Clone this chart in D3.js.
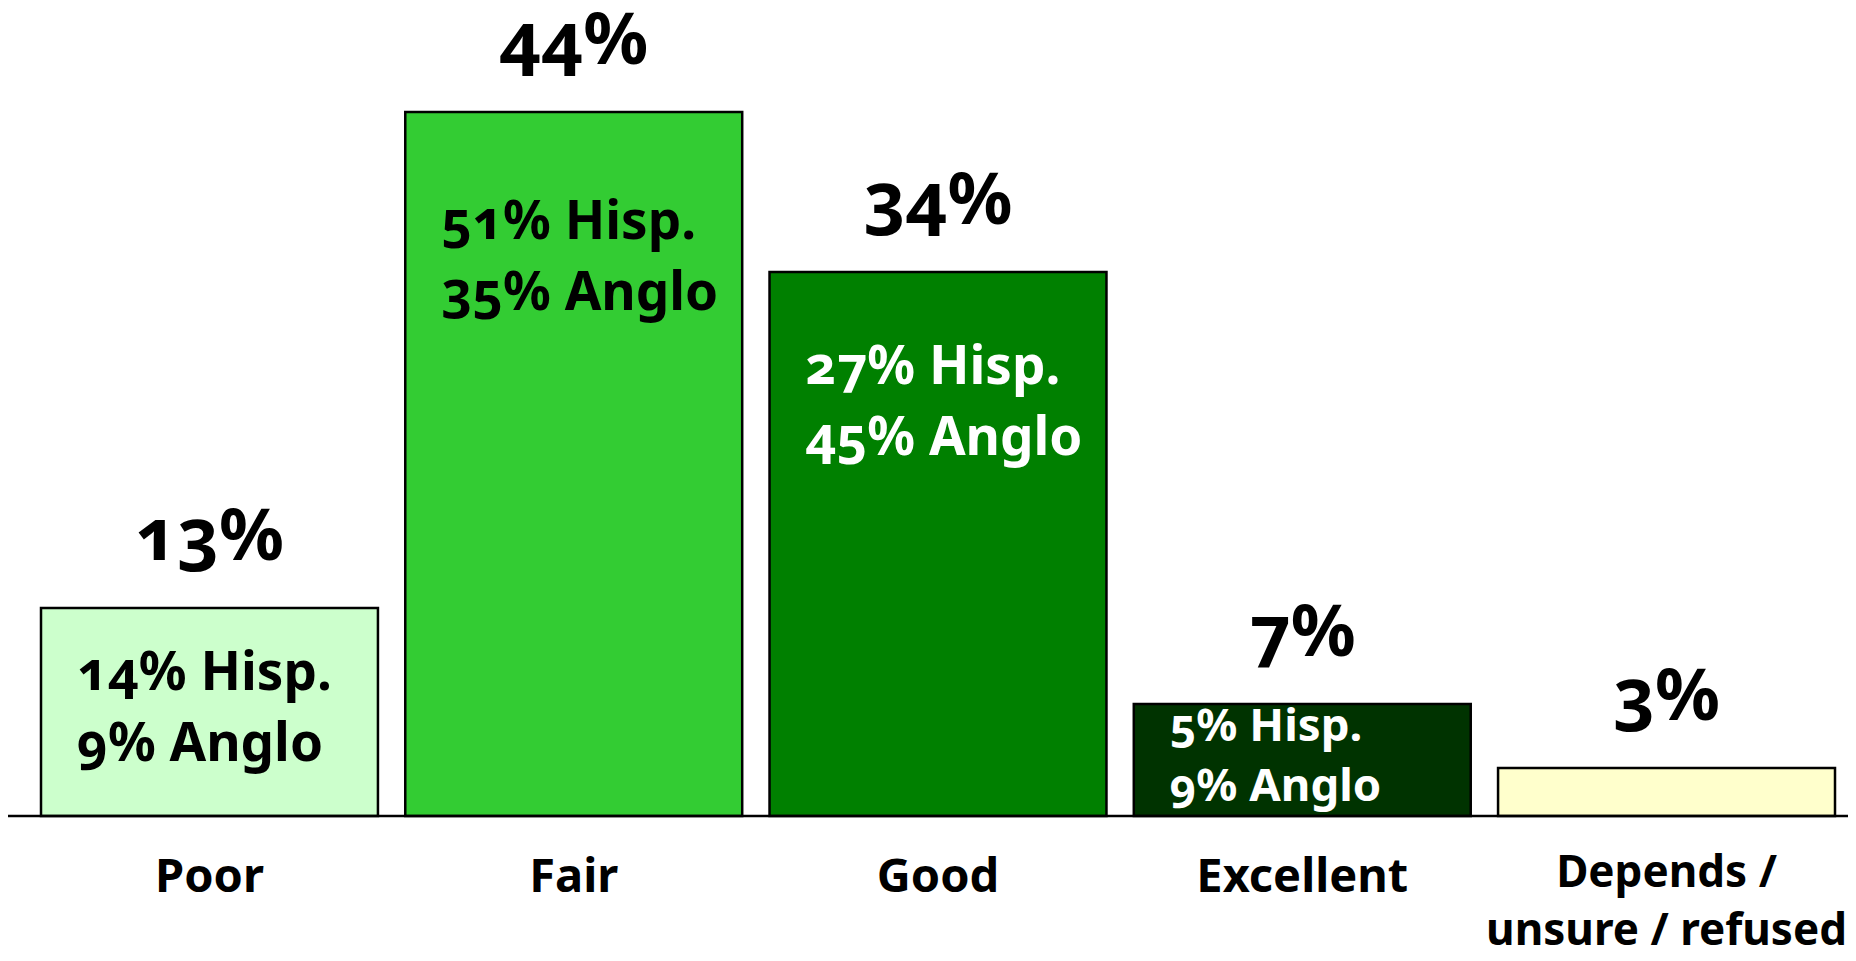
<!DOCTYPE html>
<html>
<head>
<meta charset="utf-8">
<script src="https://cdn.jsdelivr.net/npm/d3@7"></script>
<style>
    html, body { margin: 0; padding: 0; background: #fff; }
    svg text { font-family: "Noto Sans", "Open Sans", sans-serif; font-weight: bold; font-variant-numeric: oldstyle-nums; }
</style>
</head>
<body>
<svg id="chart" width="1856" height="961"></svg>
<script>
// Data
const categories = ['Poor', 'Fair', 'Good', 'Excellent', 'Depends / unsure / refused'];
const categoryLines = [['Poor'], ['Fair'], ['Good'], ['Excellent'], ['Depends /', 'unsure / refused']];
const totals = [13, 44, 34, 7, 3];
const hispanic = [14, 51, 27, 5, null];
const anglo = [9, 35, 45, 9, null];
const barColors = ['#ccffcc', '#33cc33', '#008000', '#003300', '#ffffcc'];
const innerTextColors = ['#000', '#000', '#fff', '#fff', '#000'];

const svg = d3.select('svg#chart'),
    svgWidth = 1856,
    svgHeight = 961;

// Layout constants
const baselineY = 816,
    topY = 112,
    axisX1 = 8,
    axisX2 = 1848,
    barLeft = 41,
    barRight = 1835,
    strokeWidth = 2.5,
    totalFontSize = 72,
    innerFontSize = 53,
    catFontSize = 47;

const x = d3.scaleBand()
    .domain(categories)
    .range([barLeft, barRight])
    .paddingInner(0.075)
    .paddingOuter(0);

const y = d3.scaleLinear()
    .domain([0, d3.max(totals)])
    .range([baselineY, topY]);

const data = categories.map((c, i) => ({
    cat: c,
    total: totals[i],
    hisp: hispanic[i],
    anglo: anglo[i],
    color: barColors[i],
    textColor: innerTextColors[i],
    lines: categoryLines[i]
}));

// bars
svg.selectAll('rect.bar')
    .data(data)
    .enter()
    .append('rect')
    .attr('class', 'bar')
    .attr('x', d => x(d.cat))
    .attr('y', d => y(d.total))
    .attr('width', x.bandwidth())
    .attr('height', d => baselineY - y(d.total))
    .attr('fill', d => d.color)
    .attr('stroke', '#000')
    .attr('stroke-width', strokeWidth);

// baseline
svg.append('line')
    .attr('x1', axisX1)
    .attr('x2', axisX2)
    .attr('y1', baselineY)
    .attr('y2', baselineY)
    .attr('stroke', '#000')
    .attr('stroke-width', strokeWidth);

// totals above bars
svg.selectAll('text.total')
    .data(data)
    .enter()
    .append('text')
    .attr('class', 'total')
    .attr('x', d => x(d.cat) + x.bandwidth() / 2)
    .attr('y', d => y(d.total) - 48)
    .attr('text-anchor', 'middle')
    .style('font-size', totalFontSize + 'px')
    .text(d => d.total + '%');

// Hisp. / Anglo breakdown inside bars
data.filter(d => d.hisp !== null).forEach(d => {
    const top = y(d.total),
        h = baselineY - top;
    const small = h < 150;
    const fs = small ? innerFontSize * 0.86 : innerFontSize;
    const gap = small ? 60 : 71;
    const cap = fs * 0.714;
    let y1;
    if (h > 300) {
        y1 = top + 60 + 0.095 * h;
    } else {
        y1 = top + h / 2 - gap / 2 + cap / 2 - 5;
    }
    const tx = x(d.cat) + 36;
    const t = svg.append('text')
        .attr('x', tx)
        .attr('y', y1)
        .attr('fill', d.textColor)
        .style('font-size', fs + 'px');
    t.append('tspan').attr('x', tx).text(d.hisp + '% Hisp.');
    t.append('tspan').attr('x', tx).attr('dy', gap).text(d.anglo + '% Anglo');
});

// category labels
data.forEach(d => {
    const multi = d.lines.length > 1;
    const fs = multi ? 44 : catFontSize;
    const cx = x(d.cat) + x.bandwidth() / 2;
    const t = svg.append('text')
        .attr('x', cx)
        .attr('y', multi ? 887 : 892)
        .attr('text-anchor', 'middle')
        .style('font-size', fs + 'px');
    d.lines.forEach((line, i) => {
        t.append('tspan')
            .attr('x', cx)
            .attr('dy', i === 0 ? 0 : 58)
            .text(line);
    });
});
</script>
</body>
</html>
